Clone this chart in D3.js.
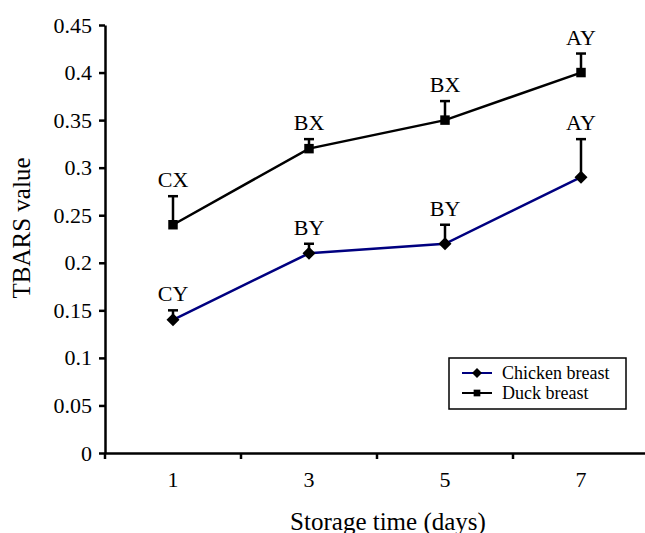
<!DOCTYPE html>
<html>
<head>
<meta charset="utf-8">
<script src="https://cdn.jsdelivr.net/npm/d3@7"></script>
<style>
  body { margin: 0; background: #fff; }
  svg { font-family: "Liberation Serif", "Times New Roman", serif; }
  .axis path, .axis line { stroke: #000; stroke-width: 2.5; }
  .axis text { fill: #000; font-size: 22px; font-family: "Liberation Serif", "Times New Roman", serif; }
</style>
</head>
<body>
<div id="chart"></div>
<script>
// data
const days = ["1", "3", "5", "7"];
const chickenValues = [0.14, 0.21, 0.22, 0.29];
const chickenErrors = [0.01, 0.01, 0.02, 0.04];
const chickenLetters = ["CY", "BY", "BY", "AY"];
const duckValues = [0.24, 0.32, 0.35, 0.40];
const duckErrors = [0.03, 0.01, 0.02, 0.02];
const duckLetters = ["CX", "BX", "BX", "AY"];
const yTicks = [0, 0.05, 0.1, 0.15, 0.2, 0.25, 0.3, 0.35, 0.4, 0.45];

const svgWidth = 645,
    svgHeight = 533,
    margin = { top: 25, left: 105 },
    plotBottom = 453,
    plotRight = 649;

let svg = d3.select("#chart").append("svg")
    .attr("width", svgWidth)
    .attr("height", svgHeight);

// scales
let xScale = d3.scaleBand()
    .domain(days)
    .range([margin.left, plotRight])
    .padding(0);
let yScale = d3.scaleLinear()
    .domain([0, 0.45])
    .range([plotBottom, margin.top]);

// y axis
svg.append("g")
    .attr("class", "axis")
    .attr("transform", `translate(${margin.left}, 0)`)
    .call(d3.axisLeft(yScale)
        .tickValues(yTicks)
        .tickFormat((d) => String(+d.toFixed(2)))
        .tickSizeInner(6)
        .tickSizeOuter(0)
        .tickPadding(7))
    .attr("font-family", null);

// x axis: labels centred in bands, ticks on band boundaries
let xAxis = svg.append("g")
    .attr("class", "axis")
    .attr("transform", `translate(0, ${plotBottom})`)
    .call(d3.axisBottom(xScale).tickSize(0).tickPadding(18))
    .attr("font-family", null);
xAxis.selectAll(".tick line").remove();
xAxis.selectAll(".boundary")
    .data(days)
    .join("line")
    .attr("class", "boundary")
    .attr("x1", (d) => xScale(d))
    .attr("x2", (d) => xScale(d))
    .attr("y1", 0)
    .attr("y2", 6);

// axis titles
svg.append("text")
    .attr("transform", `translate(30, 228) rotate(-90)`)
    .attr("text-anchor", "middle")
    .style("font-size", "25px")
    .text("TBARS value");
svg.append("text")
    .attr("x", 388)
    .attr("y", 530)
    .attr("text-anchor", "middle")
    .style("font-size", "25px")
    .text("Storage time (days)");

const cx = (d) => xScale(d) + xScale.bandwidth() / 2;

function drawSeries(values, errors, letters, color, rotate, size) {
    let rows = days.map((d, i) => ({ day: d, v: values[i], e: errors[i], l: letters[i] }));
    let g = svg.append("g");

    // error bars (upper only)
    g.selectAll(".err")
        .data(rows)
        .join("line")
        .attr("x1", (d) => cx(d.day))
        .attr("x2", (d) => cx(d.day))
        .attr("y1", (d) => yScale(d.v))
        .attr("y2", (d) => yScale(d.v + d.e))
        .attr("stroke", "#000")
        .attr("stroke-width", 2.5);
    g.selectAll(".cap")
        .data(rows)
        .join("line")
        .attr("x1", (d) => cx(d.day) - 5)
        .attr("x2", (d) => cx(d.day) + 5)
        .attr("y1", (d) => yScale(d.v + d.e))
        .attr("y2", (d) => yScale(d.v + d.e))
        .attr("stroke", "#000")
        .attr("stroke-width", 2.5);

    // line
    g.append("path")
        .datum(rows)
        .attr("fill", "none")
        .attr("stroke", color)
        .attr("stroke-width", 2.5)
        .attr("d", d3.line().x((d) => cx(d.day)).y((d) => yScale(d.v)));

    // markers (square, rotated for diamond)
    g.selectAll(".mark")
        .data(rows)
        .join("path")
        .attr("transform", (d) => `translate(${cx(d.day)}, ${yScale(d.v)}) rotate(${rotate})`)
        .attr("d", d3.symbol().type(d3.symbolSquare).size(size))
        .attr("fill", "#000");

    // significance letters
    g.selectAll(".letter")
        .data(rows)
        .join("text")
        .attr("x", (d) => cx(d.day))
        .attr("y", (d) => yScale(d.v + d.e) - 9)
        .attr("text-anchor", "middle")
        .style("font-size", "22px")
        .text((d) => d.l);
}

drawSeries(duckValues, duckErrors, duckLetters, "#000", 0, 90);
drawSeries(chickenValues, chickenErrors, chickenLetters, "#000080", 45, 85);

// legend
let legend = svg.append("g").attr("transform", "translate(449, 358)");
legend.append("rect")
    .attr("width", 177)
    .attr("height", 51)
    .attr("fill", "#fff")
    .attr("stroke", "#000")
    .attr("stroke-width", 1.5);
let legendItems = [
    { name: "Chicken breast", color: "#000080", rotate: 45, size: 50, y: 15 },
    { name: "Duck breast", color: "#000", rotate: 0, size: 45, y: 35 }
];
legendItems.forEach((item) => {
    legend.append("line")
        .attr("x1", 13).attr("x2", 43)
        .attr("y1", item.y).attr("y2", item.y)
        .attr("stroke", item.color)
        .attr("stroke-width", 2);
    legend.append("path")
        .attr("transform", `translate(28, ${item.y}) rotate(${item.rotate})`)
        .attr("d", d3.symbol().type(d3.symbolSquare).size(item.size))
        .attr("fill", "#000");
    legend.append("text")
        .attr("x", 53)
        .attr("y", item.y)
        .attr("dy", "0.35em")
        .style("font-size", "18px")
        .text(item.name);
});
</script>
</body>
</html>
